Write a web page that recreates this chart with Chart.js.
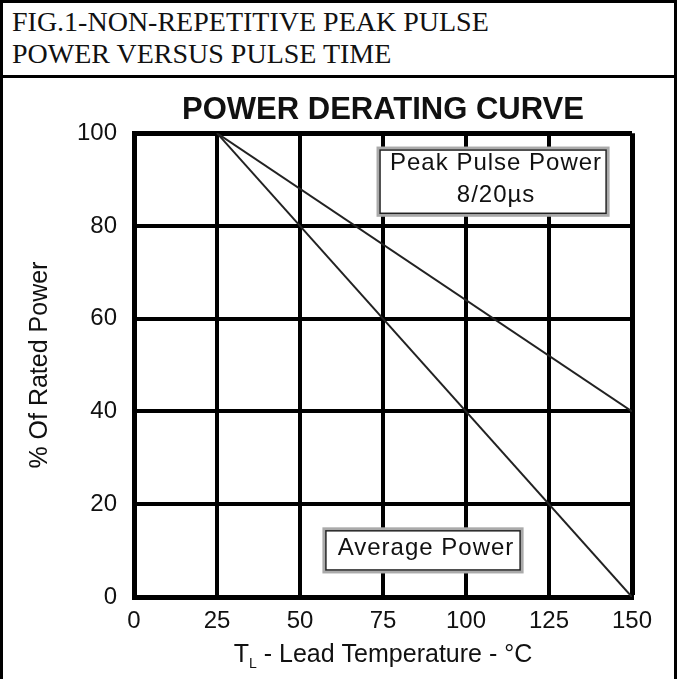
<!DOCTYPE html>
<html lang="en">
<head>
<meta charset="UTF-8">
<title>Power Derating Curve</title>
<script src="https://cdn.jsdelivr.net/npm/chart.js"></script>
<style>
    body { margin: 0; background: #fff; }
    .frame {
        position: absolute; left: 0; top: 0; width: 677px; height: 679px;
        box-sizing: border-box; border: 3px solid #000; border-bottom: none;
    }
    .fig-title {
        height: 75px; box-sizing: border-box; border-bottom: 3px solid #000;
        padding: 3px 0 0 9px;
        font-family: "Liberation Serif", "Times New Roman", serif;
        font-size: 28px; line-height: 32px; color: #111;
    }
    .chart-box { position: absolute; left: 0; top: 0; width: 677px; height: 679px; }
</style>
</head>
<body>
<div class="frame">
    <div class="fig-title">FIG.1-NON-REPETITIVE PEAK PULSE<br>POWER VERSUS PULSE TIME</div>
</div>
<div class="chart-box"><canvas id="deratingChart"></canvas></div>

<script>
// values
var temperatures = [25, 150];
var peakPulsePower = [100, 40];
var averagePower = [100, 0];
var xTicks = [0, 25, 50, 75, 100, 125, 150];
var yTicks = [0, 20, 40, 60, 80, 100];

var FONT = '"Liberation Sans", Arial, Helvetica, sans-serif';
var INK = '#111';

function toPoints(xs, ys) {
    return xs.map(function (x, i) { return { x: x, y: ys[i] }; });
}

// legend boxes, placed in data units
var labelBoxes = [
    { lines: ['Peak Pulse Power', '8/20\u00b5s'], x0: 73.5, x1: 142.8, y0: 96.8, y1: 82.3 },
    { lines: ['Average Power'], x0: 57.2, x1: 116.9, y0: 14.7, y1: 5.4 }
];

var boxPlugin = {
    id: 'labelBoxes',
    beforeDatasetsDraw: function (chart) {
        var ctx = chart.ctx, sx = chart.scales.x, sy = chart.scales.y;
        ctx.save();
        labelBoxes.forEach(function (b) {
            var l = sx.getPixelForValue(b.x0), r = sx.getPixelForValue(b.x1);
            var t = sy.getPixelForValue(b.y0), btm = sy.getPixelForValue(b.y1);
            ctx.fillStyle = '#fff';
            ctx.fillRect(l, t, r - l, btm - t);
            ctx.strokeStyle = '#aaa';
            ctx.lineWidth = 3;
            ctx.strokeRect(l, t, r - l, btm - t);
            ctx.strokeStyle = '#222';
            ctx.lineWidth = 1.5;
            ctx.strokeRect(l + 2, t + 2, r - l - 4, btm - t - 4);
            ctx.fillStyle = INK;
            ctx.font = '24px ' + FONT;
            ctx.letterSpacing = '1px';
            ctx.textAlign = 'center';
            ctx.textBaseline = 'middle';
            var cy = (t + btm) / 2 - 2, lh = 32;
            b.lines.forEach(function (txt, i) {
                ctx.fillText(txt, (l + r) / 2 + 3, cy + (i - (b.lines.length - 1) / 2) * lh);
            });
        });
        ctx.restore();
    }
};

// x axis title needs a subscript L, so it is drawn here
var xTitlePlugin = {
    id: 'xTitle',
    afterDraw: function (chart) {
        var ctx = chart.ctx, sx = chart.scales.x;
        var cx = (sx.left + sx.right) / 2, cy = sx.top + 58;
        var big = '25px ' + FONT, small = '14px ' + FONT;
        var rest = ' - Lead Temperature - \u00b0C';
        ctx.save();
        ctx.fillStyle = INK;
        ctx.textBaseline = 'middle';
        ctx.textAlign = 'left';
        ctx.font = big;
        var wT = ctx.measureText('T').width, wRest = ctx.measureText(rest).width;
        ctx.font = small;
        var wL = ctx.measureText('L').width;
        var x = cx - (wT + wL + wRest) / 2;
        ctx.font = big;
        ctx.fillText('T', x, cy);
        ctx.font = small;
        ctx.fillText('L', x + wT, cy + 9);
        ctx.font = big;
        ctx.fillText(rest, x + wT + wL, cy);
        ctx.restore();
    }
};

var ctx = document.getElementById('deratingChart').getContext('2d');
var chart = new Chart(ctx, {
    type: 'line',
    data: {
        datasets: [{
            label: 'Peak Pulse Power 8/20\u00b5s',
            data: toPoints(temperatures, peakPulsePower),
            borderColor: '#222',
            borderWidth: 2,
            pointRadius: 0,
            tension: 0
        }, {
            label: 'Average Power',
            data: toPoints(temperatures, averagePower),
            borderColor: '#222',
            borderWidth: 2,
            pointRadius: 0,
            tension: 0
        }]
    },
    options: {
        responsive: true,
        maintainAspectRatio: false,
        animation: false,
        layout: { padding: { left: 10, right: 45, top: 92, bottom: 0 } },
        plugins: {
            legend: { display: false },
            tooltip: { enabled: false },
            title: {
                display: true,
                text: 'POWER DERATING CURVE',
                fullSize: false,
                color: INK,
                font: { family: FONT, size: 31, weight: 'bold', lineHeight: 1.2 },
                padding: { top: 0, bottom: 4 }
            }
        },
        scales: {
            x: {
                type: 'linear',
                min: xTicks[0],
                max: xTicks[xTicks.length - 1],
                afterBuildTicks: function (s) { s.ticks = xTicks.map(function (v) { return { value: v }; }); },
                afterFit: function (s) { s.height = 82; },
                grid: {
                    color: '#000',
                    lineWidth: function (c) { return c.tick && c.tick.value === 150 ? 5 : 4; },
                    drawTicks: false
                },
                border: { color: '#000', width: 5 },
                ticks: { color: INK, font: { family: FONT, size: 24 }, padding: 10 }
            },
            y: {
                min: yTicks[0],
                max: yTicks[yTicks.length - 1],
                afterBuildTicks: function (s) { s.ticks = yTicks.map(function (v) { return { value: v }; }); },
                afterFit: function (s) { s.width = 124; },
                grid: {
                    color: '#000',
                    lineWidth: function (c) { return c.tick && c.tick.value === 100 ? 5 : 4; },
                    drawTicks: false
                },
                border: { color: '#000', width: 5 },
                ticks: { color: INK, font: { family: FONT, size: 24 }, padding: 17 },
                title: {
                    display: true,
                    text: '% Of Rated Power',
                    color: INK,
                    font: { family: FONT, size: 25 },
                    padding: { top: 15, bottom: 0 }
                }
            }
        }
    },
    plugins: [boxPlugin, xTitlePlugin]
});
</script>
</body>
</html>
